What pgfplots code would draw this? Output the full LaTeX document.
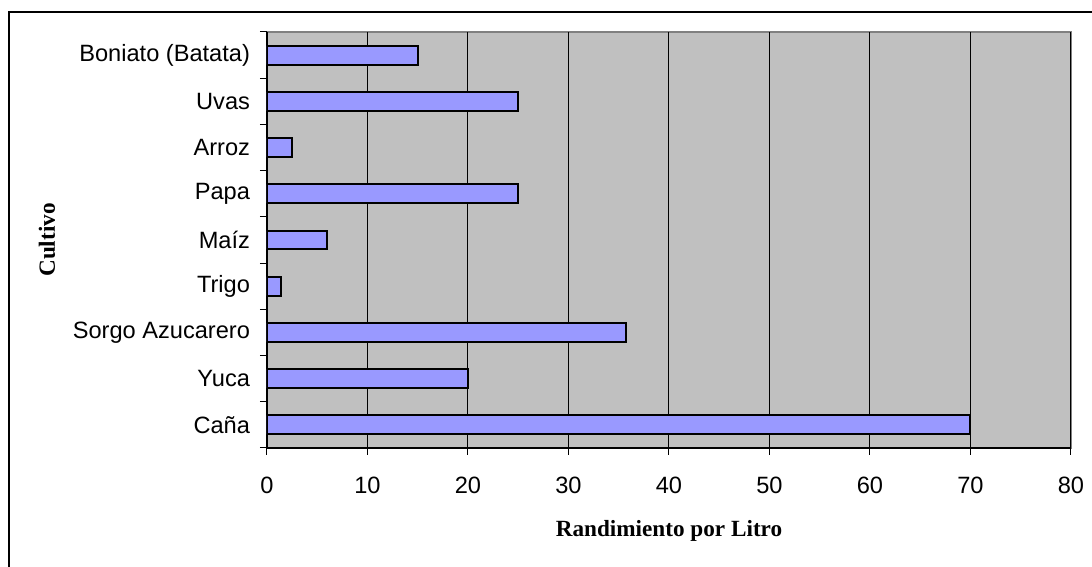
\documentclass[border=0pt]{standalone}
\usepackage{fontspec}
\setmainfont{Liberation Sans}
\newfontfamily\titlefont{Liberation Serif}
\usepackage{pgfplots}
\pgfplotsset{compat=1.18}

\definecolor{plotgray}{HTML}{C0C0C0}
\definecolor{framegray}{HTML}{808080}
\definecolor{barblue}{HTML}{9999FF}

% yield per crop, bottom to top
\pgfplotstableread{
idx value
0 70
1 20
2 35.7
3 1.4
4 6
5 25
6 2.5
7 25
8 15
}\cropdata

\begin{document}
\begin{tikzpicture}[x=1pt,y=1pt]
  \clip (0,0) rectangle (546,283.5);
  % outer chart frame
  \draw[line width=1pt] (4.5,-20) -- (4.5,277.5) -- (600,277.5);
  \begin{axis}[
    at={(133.5pt,59.5pt)}, anchor=south west,
    scale only axis, width=402pt, height=208pt,
    xmin=0, xmax=80, ymin=-0.5, ymax=8.5,
    xtick={0,10,...,80},
    ytick={-0.5,0.5,...,8.5}, yticklabels={},
    extra y ticks={0,1,2,3,4,5,6,7,8},
    extra y tick labels={Caña,Yuca,Sorgo Azucarero,Trigo,Maíz,Papa,Arroz,Uvas,Boniato (Batata)},
    extra y tick style={major tick length=0pt, grid=none},
    tick align=outside, major tick length=3.5pt,
    tick style={black, line width=0.5pt},
    xmajorgrids, ymajorgrids=false,
    grid style={black, line width=0.5pt},
    axis x line*=bottom, axis y line*=left,
    axis line style={black, line width=0.75pt, -},
    axis background/.style={fill=plotgray, draw=framegray, line width=0.75pt},
    /pgf/number format/assume math mode=true,
    ticklabel style={font=\fontsize{11.8}{13}\selectfont},
    xticklabel style={yshift=-7.5pt},
    yticklabel style={xshift=-5pt},
    xlabel={\titlefont\bfseries Randimiento por Litro},
    ylabel={\titlefont\bfseries Cultivo},
    label style={font=\fontsize{11.6}{14}\selectfont},
    xlabel style={at={(axis description cs:0.5,-0.2)}, anchor=center},
    ylabel style={at={(axis description cs:-0.2736,0.5)}, anchor=center},
    xbar, bar width=0.41,
  ]
    \addplot[fill=barblue, draw=black, line width=1pt] table[x=value, y=idx] {\cropdata};
  \end{axis}
\end{tikzpicture}
\end{document}
